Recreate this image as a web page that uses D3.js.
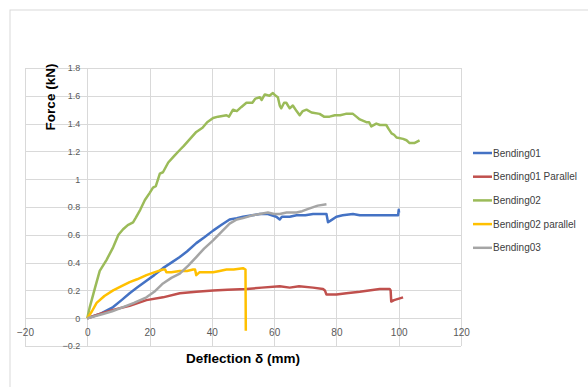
<!DOCTYPE html>
<html>
<head>
<meta charset="utf-8">
<script src="https://cdn.jsdelivr.net/npm/d3@7"></script>
<style>
  body { margin: 0; background: #fff; }
  svg text { font-family: "Liberation Sans", Arial, sans-serif; }
</style>
</head>
<body>
<svg id="chart" width="588" height="387"></svg>
<script>
// data: [deflection mm, force kN]
var bending01 = [[0,0],[4,0.03],[8.3,0.08],[11,0.13],[13.6,0.18],[16,0.22],[19,0.27],[21.5,0.31],[24.3,0.36],[27,0.4],
  [29.7,0.44],[32,0.48],[35,0.54],[37.5,0.58],[40.4,0.63],[43,0.67],[45.7,0.71],[48,0.72],[50,0.73],[53,0.74],
  [55.4,0.75],[58,0.75],[60.7,0.73],[61.8,0.71],[62.5,0.73],[65,0.73],[67.2,0.74],[70,0.74],[72.5,0.75],[75,0.75],
  [76.8,0.75],[77.3,0.69],[78,0.7],[80,0.73],[82,0.74],[85.3,0.75],[87.5,0.74],[90,0.74],[93.9,0.74],[98.2,0.74],
  [99.8,0.74],[100,0.78],[100.1,0.76]];
var bending01Par = [[0,0],[4,0.03],[8.3,0.06],[13.6,0.09],[19,0.13],[24.3,0.15],[29.7,0.18],[35,0.19],[40.4,0.2],
  [45,0.205],[51.1,0.21],[56,0.22],[61.8,0.23],[65,0.22],[68,0.23],[72.5,0.22],[75.7,0.21],[76.3,0.2],[76.8,0.17],
  [80,0.17],[83.2,0.18],[87.5,0.19],[93.9,0.21],[97.1,0.21],[97.4,0.2],[97.6,0.12],[98.5,0.13],[101.4,0.15]];
var bending02 = [[0,0],[0.8,0.08],[2.5,0.22],[4,0.34],[6.2,0.42],[8.3,0.51],[10,0.6],[11.5,0.64],[13,0.67],
  [14.7,0.69],[15.5,0.72],[17,0.78],[18.5,0.85],[20,0.9],[21.1,0.94],[22,0.95],[23.3,1.04],[24.3,1.05],[26,1.12],
  [28,1.17],[29.7,1.21],[31,1.24],[33,1.29],[35,1.34],[37,1.37],[38.5,1.41],[40.4,1.44],[42,1.45],[44.7,1.46],
  [45.5,1.45],[46.8,1.5],[48,1.49],[49.5,1.52],[51.1,1.55],[53,1.55],[54,1.58],[55.4,1.59],[56,1.57],[57,1.61],
  [58.5,1.6],[59.6,1.62],[60.5,1.6],[61.2,1.59],[61.8,1.53],[62.3,1.51],[63.2,1.55],[63.9,1.55],[65,1.51],
  [66,1.53],[67.2,1.49],[68.2,1.46],[69.2,1.49],[70.4,1.5],[72,1.48],[74.6,1.47],[76,1.45],[77.8,1.45],
  [79.5,1.46],[81.2,1.46],[83,1.47],[85.3,1.47],[86.4,1.45],[87.5,1.43],[89.6,1.41],[90.5,1.41],[91.2,1.38],
  [92.8,1.4],[94,1.39],[96,1.39],[96.8,1.36],[97.7,1.33],[98.5,1.32],[99.3,1.3],[101.4,1.29],[102.5,1.28],
  [103.5,1.26],[105,1.26],[106.7,1.28]];
var bending02Par = [[0,0],[1.5,0.05],[3,0.11],[5.5,0.16],[8.3,0.2],[11,0.23],[13.6,0.26],[16,0.28],[19,0.31],
  [21.5,0.33],[24.3,0.35],[25,0.35],[25.4,0.33],[27,0.33],[29.7,0.34],[32,0.34],[34,0.35],[34.6,0.35],[35,0.31],
  [36,0.33],[38,0.33],[40.4,0.33],[42.5,0.34],[44.7,0.35],[47,0.35],[50,0.36],[50.8,0.35],[50.9,-0.09]];
var bending03 = [[0,0],[5,0.03],[8,0.05],[11.5,0.08],[15,0.11],[19,0.15],[21.5,0.19],[24.3,0.25],[27,0.29],
  [29.7,0.32],[32.5,0.38],[35,0.44],[37.5,0.5],[40.4,0.56],[43,0.62],[45.7,0.68],[48,0.71],[50,0.72],[53,0.74],
  [55.4,0.75],[58,0.76],[60,0.75],[61.8,0.75],[64,0.76],[67.2,0.76],[69,0.77],[71.4,0.79],[74,0.81],[76.8,0.82]];

var seriesNames = ["Bending01", "Bending01 Parallel", "Bending02", "Bending02 parallel", "Bending03"];
var seriesData = [bending01, bending01Par, bending02, bending02Par, bending03];
var seriesColors = ["#4472C4", "#C0504D", "#9BBB59", "#FFC000", "#A5A5A5"];
var xTicks = [-20, 0, 20, 40, 60, 80, 100, 120];
var yTicks = [-0.2, 0, 0.2, 0.4, 0.6, 0.8, 1, 1.2, 1.4, 1.6, 1.8];

var svg = d3.select('#chart');

// chart frame
svg.append('rect')
  .attr('x', 10).attr('y', 10)
  .attr('width', 600).attr('height', 400)
  .attr('fill', 'none')
  .attr('stroke', '#d9d9d9');

var x = d3.scaleLinear().domain([-20, 120]).range([25, 461]),
    y = d3.scaleLinear().domain([-0.2, 1.8]).range([346, 68]);

// gridlines
svg.append('g').selectAll('line.v')
  .data(xTicks).enter().append('line')
  .attr('x1', function(d) { return Math.round(x(d)) + 0.5; })
  .attr('x2', function(d) { return Math.round(x(d)) + 0.5; })
  .attr('y1', y(1.8)).attr('y2', y(-0.2))
  .attr('stroke', '#d9d9d9');

svg.append('g').selectAll('line.h')
  .data(yTicks).enter().append('line')
  .attr('y1', function(d) { return Math.round(y(d)) + 0.5; })
  .attr('y2', function(d) { return Math.round(y(d)) + 0.5; })
  .attr('x1', x(-20)).attr('x2', x(120))
  .attr('stroke', '#d9d9d9');

// tick labels (axes cross at 0, like excel)
var yAxis = d3.axisLeft(y).tickValues(yTicks).tickSize(0).tickPadding(7)
  .tickFormat(function(d) { return d3.format('')(+d.toFixed(1)); });
var gy = svg.append('g').attr('transform', 'translate(' + x(0) + ',0)').call(yAxis);
gy.select('.domain').remove();
gy.selectAll('text').attr('fill', '#595959').style('font-size', '9px');

var xAxis = d3.axisBottom(x).tickValues(xTicks).tickSize(0).tickPadding(11);
var gx = svg.append('g').attr('transform', 'translate(0,' + y(0) + ')').call(xAxis);
gx.select('.domain').remove();
gx.selectAll('text').attr('fill', '#595959').style('font-size', '10px');

// series
var line = d3.line()
  .x(function(d) { return x(d[0]); })
  .y(function(d) { return y(d[1]); });

svg.append('g').selectAll('path')
  .data(seriesData).enter().append('path')
  .attr('d', line)
  .attr('fill', 'none')
  .attr('stroke', function(d, i) { return seriesColors[i]; })
  .attr('stroke-width', 2.5)
  .attr('stroke-linejoin', 'round');

// axis titles
svg.append('text')
  .attr('transform', 'translate(55,97) rotate(-90)')
  .attr('text-anchor', 'middle')
  .style('font-size', '13.5px').style('font-weight', 'bold')
  .attr('fill', '#000')
  .text('Force (kN)');

svg.append('text')
  .attr('x', 243).attr('y', 363)
  .attr('text-anchor', 'middle')
  .style('font-size', '13.5px').style('font-weight', 'bold')
  .attr('fill', '#000')
  .text('Deflection δ (mm)');

// legend
var legend = svg.append('g').selectAll('g')
  .data(seriesNames).enter().append('g')
  .attr('transform', function(d, i) { return 'translate(473,' + (153 + i * 23.7) + ')'; });

legend.append('line')
  .attr('x1', 0).attr('x2', 19)
  .attr('stroke', function(d, i) { return seriesColors[i]; })
  .attr('stroke-width', 2.5);

legend.append('text')
  .attr('x', 20).attr('dy', '0.35em')
  .style('font-size', '10px')
  .attr('fill', '#404040')
  .text(function(d) { return d; });
</script>
</body>
</html>
